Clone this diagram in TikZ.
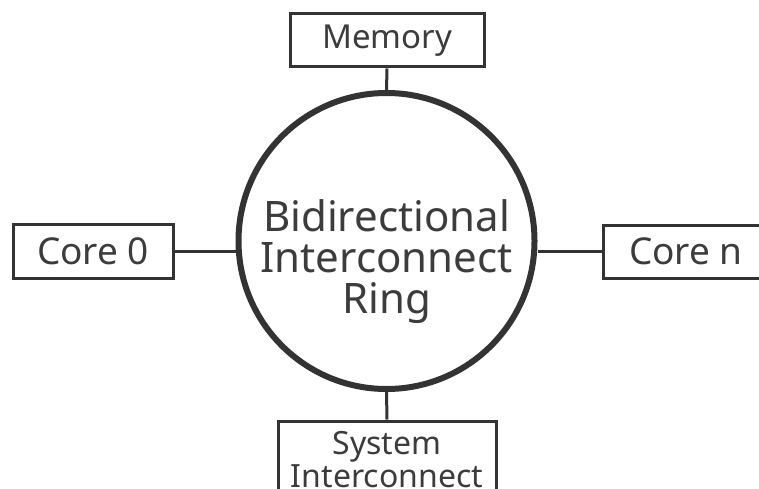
\documentclass[tikz,border=0pt]{standalone}
\usepackage{fontspec}
\setmainfont{Noto Sans}
\definecolor{ink}{HTML}{333333}
\definecolor{txt}{HTML}{3C3C3C}
\begin{document}
\begin{tikzpicture}[x=1pt,y=-1pt,
  box/.style={draw=ink, line width=3pt, fill=white, inner sep=0pt, text=txt},
  wire/.style={draw=ink, line width=3pt},
  ringstyle/.style={circle, draw=ink, line width=6pt, inner sep=0pt, minimum size=296pt}]
\useasboundingbox[fill=white] (0,0) rectangle (759,489);
\node[ringstyle] (ring) at (386.5,241) {};
\node[text=txt, align=center, font=\fontsize{42}{41}\selectfont] (ringlabel) at (386.5,262) {Bidirectional\\Interconnect\\Ring};
\node[box, minimum width=194pt, minimum height=53pt, font=\fontsize{33}{40}\selectfont] (mem) at (387,40.5) {Memory};
\node[box, minimum width=160pt, minimum height=54pt, font=\fontsize{37}{40}\selectfont] (core0) at (93,251) {Core 0};
\node[box, minimum width=166pt, minimum height=53pt, font=\fontsize{37}{40}\selectfont] (coren) at (686,251.5) {Core n};
\node[box, minimum width=218pt, minimum height=78pt, align=center, font=\fontsize{32}{33}\selectfont] (sys) at (387,460) {System\\Interconnect};
\draw[wire] (mem.south) -- (ring.north);
\draw[wire] (sys.north) -- (ring.south);
\draw[wire] (core0.east) -- (ring.west |- core0.east);
\draw[wire] (coren.west) -- (ring.east |- coren.west);
\end{tikzpicture}
\end{document}
